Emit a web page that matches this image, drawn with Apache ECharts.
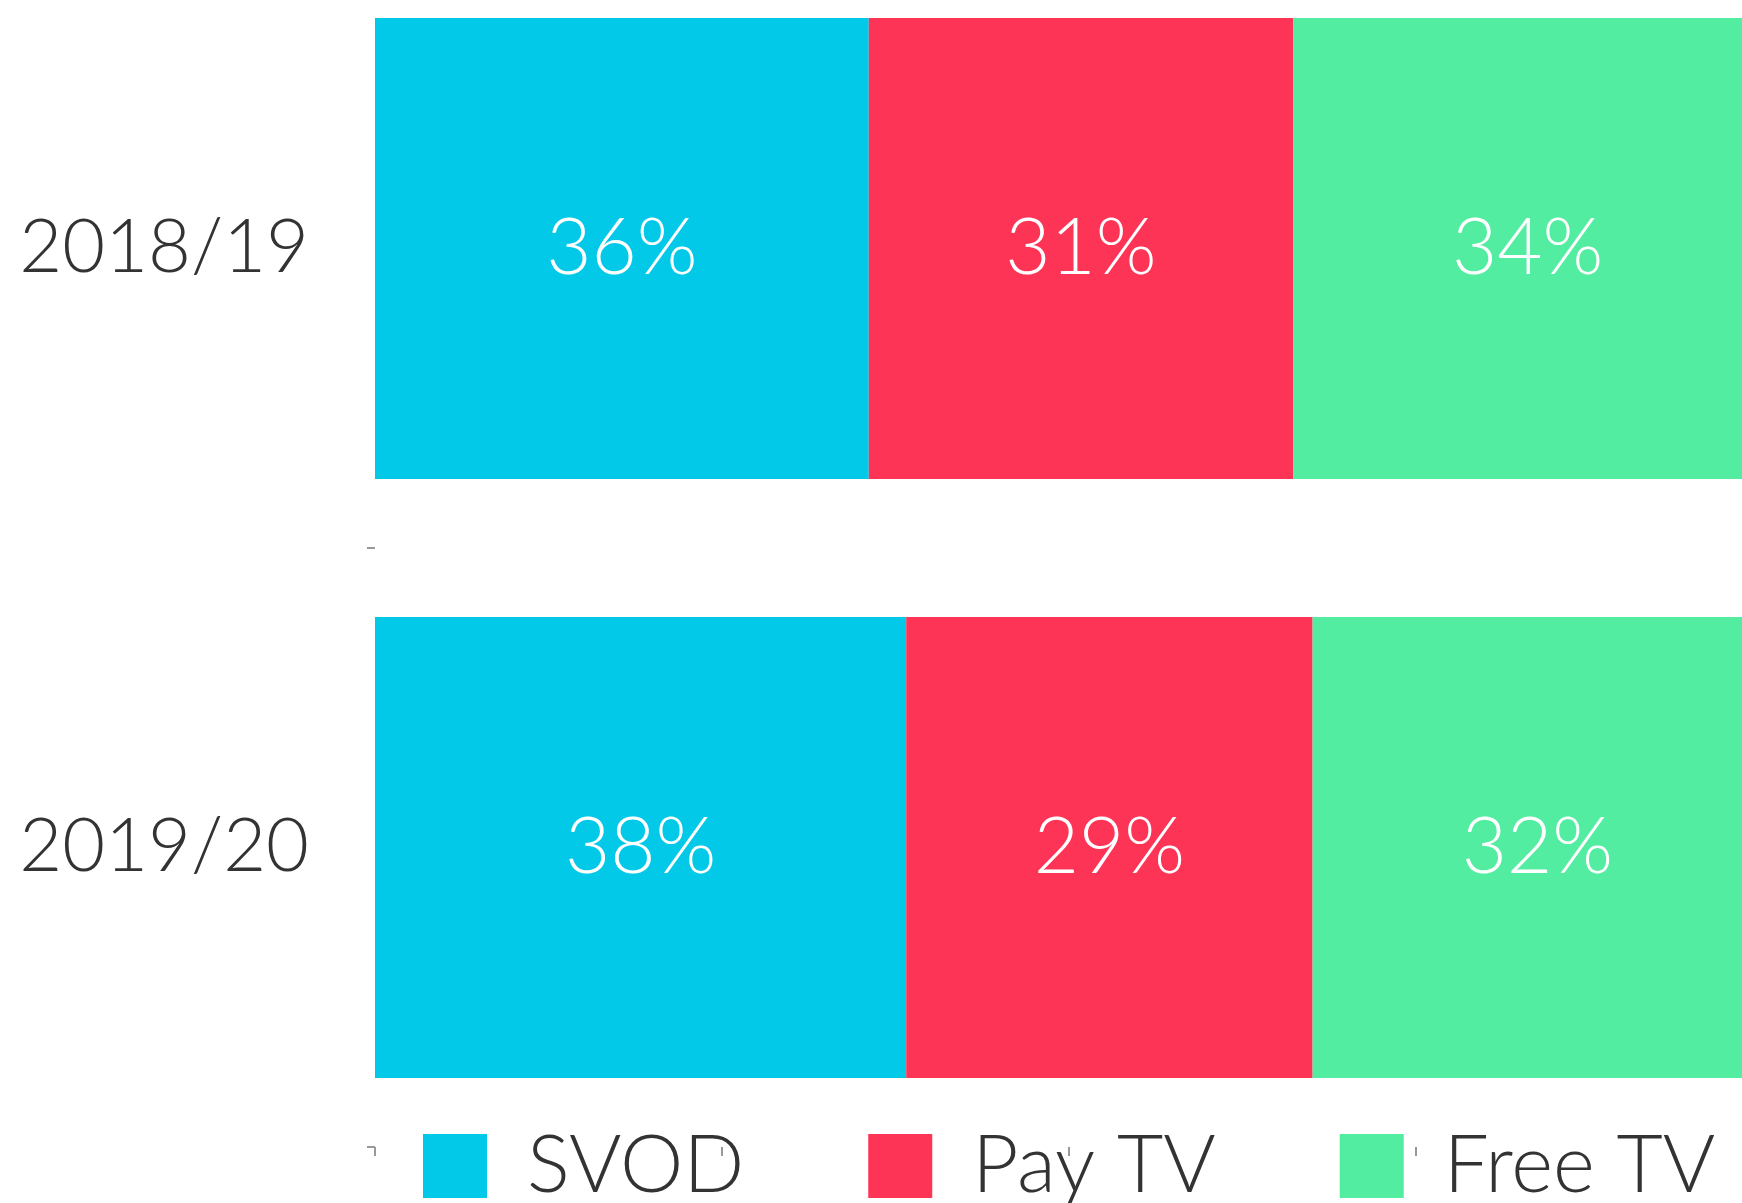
<!DOCTYPE html>
<html>
<head>
<meta charset="utf-8">
<script src="https://cdn.jsdelivr.net/npm/echarts@6/dist/echarts.min.js"></script>
<style>
  html, body { margin: 0; padding: 0; background: #fff; overflow: hidden; width: 1742px; height: 1203px; }
  /* 图表画布比窗口略大：顶部和右侧的刻度落在窗口外 */
  #chart { position: absolute; left: 0; top: -51px; width: 1782px; height: 1254px; }
</style>
</head>
<body>
<div id="chart"></div>
<script>
// 数据：两个年度的观看份额（%）
const years = ["2018/19", "2019/20"];
const svod = [35.6, 38.3];
const payTv = [30.6, 29.3];
const freeTv = [33.8, 32.4];
const xTicks = [0, 25, 50, 75, 100];

const chart = echarts.init(document.getElementById("chart"));

const labelStyle = {
  show: true,
  position: "inside",
  color: "#fff",
  fontFamily: "Lato",
  fontWeight: 300,
  fontSize: 78,
  formatter: (p) => Math.round(p.value) + "%",
};

const mkSeries = (name, data, color) => ({
  name,
  type: "bar",
  stack: "total",
  data,
  barWidth: "77%",
  itemStyle: { color },
  label: labelStyle,
  emphasis: { disabled: true },
});

chart.setOption({
  animation: false,
  grid: { left: 375, right: 20, top: 0, bottom: 56, containLabel: false },
  legend: {
    left: 423,
    top: 1177,
    width: 1340,
    padding: 0,
    icon: "rect",
    itemWidth: 64,
    itemHeight: 64,
    itemGap: 124,
    textStyle: {
      color: "#333",
      fontFamily: "Lato",
      fontWeight: 300,
      fontSize: 80,
      lineHeight: 64,
      padding: [0, 0, 0, 35],
    },
    data: ["SVOD", "Pay TV", "Free TV"],
  },
  xAxis: {
    type: "value",
    min: xTicks[0],
    max: xTicks[xTicks.length - 1],
    interval: 25,
    axisLine: { show: false },
    axisTick: { show: true, length: 9, lineStyle: { color: "#999", width: 2 } },
    axisLabel: { show: false },
    splitLine: { show: false },
  },
  yAxis: {
    type: "category",
    inverse: true,
    data: years,
    axisLine: { show: false },
    axisTick: { show: true, length: 8, lineStyle: { color: "#999", width: 2 } },
    axisLabel: {
      margin: 66,
      color: "#333",
      fontFamily: "Lato",
      fontWeight: 300,
      fontSize: 74,
    },
  },
  series: [
    mkSeries("SVOD", svod, "#03C9E9"),
    mkSeries("Pay TV", payTv, "#FD3456"),
    mkSeries("Free TV", freeTv, "#52EDA0"),
  ],
});
</script>
</body>
</html>
